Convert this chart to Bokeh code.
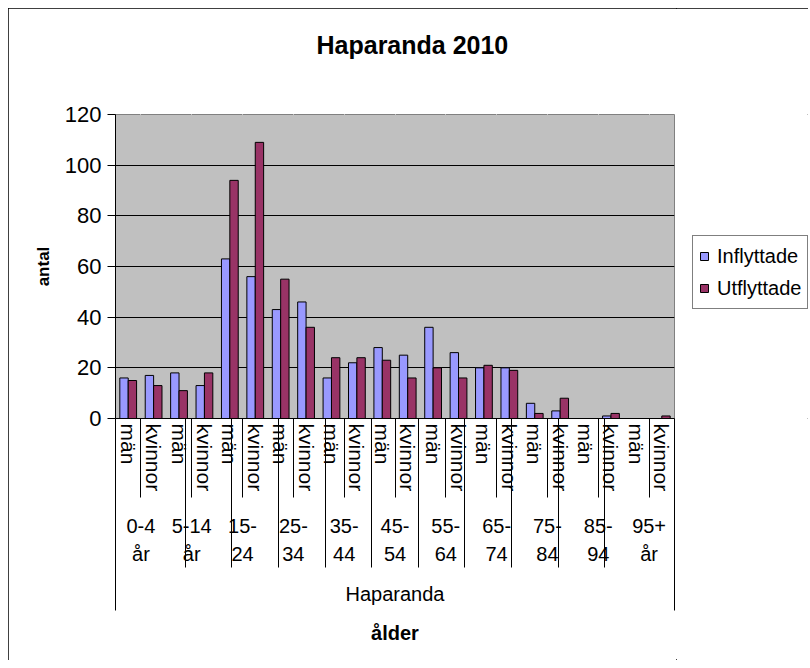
from bokeh.plotting import figure
from bokeh.layouts import row
from bokeh.models import (FactorRange, Range1d, ColumnDataSource, FixedTicker, CategoricalAxis,
                          Legend, LegendItem, Title)
from bokeh.transform import dodge
from bokeh.embed import file_html
from bokeh.resources import INLINE

# ---- data -------------------------------------------------------------
age_groups = ["0-4\når", "5-14\når", "15-\n24", "25-\n34", "35-\n44", "45-\n54",
              "55-\n64", "65-\n74", "75-\n84", "85-\n94", "95+\når"]
sexes = ["män", "kvinnor"]
inflyttade = [16, 17, 18, 13, 63, 56, 43, 46, 16, 22, 28, 25, 36, 26, 20, 20, 6, 3, 0, 1, 0, 0]
utflyttade = [15, 13, 11, 18, 94, 109, 55, 36, 24, 24, 23, 16, 20, 16, 21, 19, 2, 8, 0, 2, 0, 1]
y_ticks = [0, 20, 40, 60, 80, 100, 120]
series_names = ["Inflyttade", "Utflyttade"]
colors = ["#9999FF", "#993366"]
title_text = "Haparanda 2010"
region = "Haparanda"
x_title = "ålder"
y_title = "antal"

FONT = "Liberation Sans"
factors = [(a, s) for a in age_groups for s in sexes]
n_groups = len(age_groups)

x_range = FactorRange(factors=factors, range_padding=0, group_padding=0,
                      subgroup_padding=0, factor_padding=0)

p = figure(width=668, height=652, x_range=x_range, y_range=Range1d(0, 120),
           output_backend="svg", toolbar_location=None, title_location=None,
           min_border_left=107, min_border_right=2,
           min_border_top=106, min_border_bottom=242)

p.background_fill_color = "#C0C0C0"
p.border_fill_color = "white"
p.outline_line_color = "#808080"

src = ColumnDataSource(dict(x=factors, infl=inflyttade, utfl=utflyttade))
r1 = p.vbar(x=dodge("x", -0.165, range=p.x_range), top="infl", width=0.33, source=src,
            fill_color=colors[0], line_color="black", line_width=1)
r2 = p.vbar(x=dodge("x", 0.165, range=p.x_range), top="utfl", width=0.33, source=src,
            fill_color=colors[1], line_color="black", line_width=1)

# grid
p.xgrid.visible = False
p.ygrid.ticker = FixedTicker(ticks=y_ticks[1:-1])
p.ygrid.grid_line_color = "black"
p.ygrid.grid_line_width = 1

# y axis
yax = p.yaxis[0]
yax.ticker = FixedTicker(ticks=y_ticks)
yax.major_label_text_font = FONT
yax.major_label_text_font_size = "22px"
yax.major_label_text_color = "black"
yax.major_tick_out = 8
yax.major_tick_in = 0
yax.minor_tick_out = 0
yax.minor_tick_in = 0
yax.major_label_standoff = 6
yax.axis_line_color = "black"
yax.major_tick_line_color = "black"
yax.axis_label = y_title
yax.axis_label_text_font = FONT
yax.axis_label_text_font_size = "17px"
yax.axis_label_text_font_style = "bold"
yax.axis_label_text_color = "black"
yax.axis_label_standoff = 9

# x axis: inner level (män / kvinnor) on the bars' own range
xax = p.xaxis[0]
xax.major_label_orientation = "vertical"
xax.major_label_text_font = FONT
xax.major_label_text_font_size = "21px"
xax.major_label_text_color = "black"
xax.major_label_standoff = 5
xax.major_tick_line_color = None
xax.major_tick_out = 0
xax.major_tick_in = 0
xax.minor_tick_line_color = None
xax.axis_line_color = "black"
xax.group_text_font_size = "1px"
xax.group_text_color = None
xax.separator_line_color = None

# extra ranges whose factor centres fall on the wanted separator positions
p.extra_x_ranges = {
    # centres of the age groups = boundary between män and kvinnor
    "age": FactorRange(factors=list(age_groups)),
    # the 10 inner boundaries between age groups (padding of one factor width)
    "bnd": FactorRange(factors=[f"b{i}" for i in range(1, n_groups)],
                       range_padding=1, range_padding_units="absolute"),
    # the two outer ends of the category axis
    "out": FactorRange(factors=["o0", "o1"], factor_padding=1000),
}

# separator lines: ticks of zero-size helper axes that point away from the frame
helpers = []
for name, length in (("age", 79), ("bnd", 149), ("out", 192)):
    ax = CategoricalAxis(x_range_name=name,
                         axis_line_color=None, major_label_text_color=None,
                         major_label_standoff=0,
                         major_tick_in=-length, major_tick_out=0,
                         major_tick_line_color="black", major_tick_line_width=1,
                         separator_line_color=None)
    helpers.append(ax)

# age-group labels and the region name
age_axis = CategoricalAxis(x_range_name="age", axis_line_color=None,
                           major_tick_line_color=None, major_tick_out=0, major_tick_in=0,
                           major_label_orientation="horizontal",
                           major_label_text_font=FONT, major_label_text_font_size="20px",
                           major_label_text_color="black",
                           major_label_text_line_height=1.3,
                           major_label_standoff=20,
                           separator_line_color=None,
                           axis_label=region, axis_label_text_font=FONT,
                           axis_label_text_font_size="20px",
                           axis_label_text_font_style="normal",
                           axis_label_text_color="black", axis_label_standoff=15)

p.below = helpers + [xax, age_axis]

p.add_layout(Title(text=x_title, align="center", text_font=FONT, text_font_size="20px",
                   text_font_style="bold", text_color="black", standoff=22), "below")

# spacer above the frame (white ticks on white), then the chart title
top_spacer = CategoricalAxis(x_range_name="age", axis_line_color=None,
                             major_label_text_color=None, major_label_standoff=0,
                             major_tick_in=0, major_tick_out=51,
                             major_tick_line_color="white", separator_line_color=None)
p.add_layout(top_spacer, "above")
p.add_layout(Title(text=title_text, align="left", offset=201, text_font=FONT,
                   text_font_size="25px", text_font_style="bold", text_color="black",
                   standoff=10), "above")

# legend in a narrow companion panel to the right of the plot area
lg = figure(width=132, height=652, output_backend="svg", toolbar_location=None,
            title_location=None, x_axis_location=None, y_axis_location=None,
            x_range=Range1d(0, 1), y_range=Range1d(0, 1), min_border=0)
lg.outline_line_color = None
lg.background_fill_color = "white"
lg.border_fill_color = "white"
lg.grid.visible = False
# legend keys: one placeholder bar each, lying outside the visible range
key_src = ColumnDataSource(dict(x=[5], top=[1]))
k1 = lg.vbar(x="x", top="top", width=0.5, source=key_src,
             fill_color=colors[0], line_color="black")
k2 = lg.vbar(x="x", top="top", width=0.5, source=key_src,
             fill_color=colors[1], line_color="black")
legend = Legend(items=[LegendItem(label=series_names[0], renderers=[k1]),
                       LegendItem(label=series_names[1], renderers=[k2])],
                location=(16, 109), label_text_font=FONT, label_text_font_size="20px",
                label_text_color="black",
                glyph_width=10, glyph_height=10, label_standoff=8, padding=6,
                spacing=4, label_height=28, margin=0,
                border_line_color="black", border_line_width=1,
                background_fill_color="white", background_fill_alpha=1)
lg.add_layout(legend)

layout = row(p, lg)
layout.margin = (8, 0, 0, 8)
layout.styles = {"outline": "1px solid black", "outline-offset": "-1px"}

open("out.html", "w").write(file_html(layout, INLINE))
